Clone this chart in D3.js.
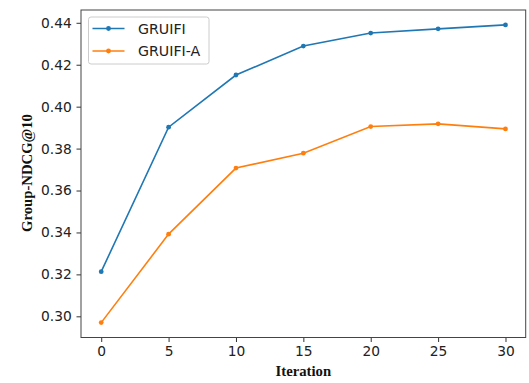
<!DOCTYPE html>
<html lang="en">
<head>
<meta charset="UTF-8">
<title>Group-NDCG@10 vs Iteration</title>
<script src="https://cdn.jsdelivr.net/npm/d3@7"></script>
<style>
  body { margin: 0; background: #fff; }
</style>
</head>
<body>
<div id="chart"></div>
<script>
  // data
  const iterations = [0, 5, 10, 15, 20, 25, 30]
  const gruifi = [0.3213, 0.3902, 0.4151, 0.4289, 0.4351, 0.4371, 0.4390]
  const gruifiA = [0.2970, 0.3392, 0.3707, 0.3778, 0.3905, 0.3918, 0.3894]
  const seriesNames = ['GRUIFI', 'GRUIFI-A']
  const seriesColors = ['#1f77b4', '#ff7f0e']
  const xTicks = [0, 5, 10, 15, 20, 25, 30]
  const yTicks = [0.30, 0.32, 0.34, 0.36, 0.38, 0.40, 0.42, 0.44]

  const width = 529
  const height = 383
  const marginLeft = 81
  const marginRight = 3.3
  const marginTop = 10
  const marginBottom = 45.5

  const svg = d3.select('#chart').append('svg')
    .attr('width', width)
    .attr('height', height)

  const x = d3.scaleLinear()
    .domain([-1.5, 31.5])
    .range([marginLeft, width - marginRight])

  const y = d3.scaleLinear()
    .domain([0.2899, 0.4461])
    .range([height - marginBottom, marginTop])

  const tickFont = 'DejaVu Sans'
  const labelFont = 'Liberation Serif'

  // x axis
  svg.append('g')
    .attr('transform', `translate(0,${height - marginBottom})`)
    .call(d3.axisBottom(x).tickValues(xTicks).tickFormat(d3.format('d')).tickSizeOuter(0).tickSize(4.5).tickPadding(4.7))
    .call(g => g.select('.domain').remove())
    .call(g => g.selectAll('.tick line').attr('stroke', '#333'))
    .call(g => g.selectAll('.tick text').attr('font-family', tickFont).attr('font-size', 13.8).attr('fill', '#222'))

  // y axis
  svg.append('g')
    .attr('transform', `translate(${marginLeft},0)`)
    .call(d3.axisLeft(y).tickValues(yTicks).tickFormat(d3.format('.2f')).tickSizeOuter(0).tickSize(4.5).tickPadding(4.8))
    .call(g => g.select('.domain').remove())
    .call(g => g.selectAll('.tick line').attr('stroke', '#333'))
    .call(g => g.selectAll('.tick text').attr('font-family', tickFont).attr('font-size', 13.8).attr('fill', '#222'))

  // frame
  svg.append('rect')
    .attr('x', marginLeft)
    .attr('y', marginTop)
    .attr('width', width - marginLeft - marginRight)
    .attr('height', height - marginTop - marginBottom)
    .attr('fill', 'none')
    .attr('stroke', '#444')
    .attr('stroke-width', 1)

  // lines
  const allSeries = [gruifi, gruifiA]
  const line = d3.line()
    .x((d, i) => x(iterations[i]))
    .y(d => y(d))

  allSeries.forEach((vals, k) => {
    svg.append('path')
      .datum(vals)
      .attr('fill', 'none')
      .attr('stroke', seriesColors[k])
      .attr('stroke-width', 1.6)
      .attr('d', line)
    svg.append('g')
      .selectAll('circle')
      .data(vals)
      .join('circle')
      .attr('cx', (d, i) => x(iterations[i]))
      .attr('cy', d => y(d))
      .attr('r', 2.4)
      .attr('fill', seriesColors[k])
  })

  // legend
  const legend = svg.append('g')
  legend.append('rect')
    .attr('x', 88.5)
    .attr('y', 17)
    .attr('width', 120.5)
    .attr('height', 47)
    .attr('rx', 2.5)
    .attr('fill', '#fff')
    .attr('fill-opacity', 0.8)
    .attr('stroke', '#ccc')
  seriesNames.forEach((name, k) => {
    const ly = 28.5 + k * 22.5
    legend.append('line')
      .attr('x1', 92.5).attr('x2', 124.5)
      .attr('y1', ly).attr('y2', ly)
      .attr('stroke', seriesColors[k])
      .attr('stroke-width', 1.6)
    legend.append('circle')
      .attr('cx', 108.5).attr('cy', ly).attr('r', 2.4)
      .attr('fill', seriesColors[k])
    legend.append('text')
      .attr('x', 138).attr('y', ly)
      .attr('dy', '0.36em')
      .attr('font-family', tickFont)
      .attr('font-size', 14.2)
      .attr('fill', '#222')
      .text(name)
  })

  // axis labels
  svg.append('text')
    .attr('x', (marginLeft + width - marginRight) / 2)
    .attr('y', 375.7)
    .attr('text-anchor', 'middle')
    .attr('font-family', labelFont)
    .attr('font-weight', 'bold')
    .attr('font-size', 14.7)
    .attr('fill', '#111')
    .text('Iteration')

  svg.append('text')
    .attr('transform', `translate(31.5,173) rotate(-90)`)
    .attr('text-anchor', 'middle')
    .attr('font-family', labelFont)
    .attr('font-weight', 'bold')
    .attr('font-size', 14.7)
    .attr('fill', '#111')
    .text('Group-NDCG@10')
</script>
</body>
</html>
